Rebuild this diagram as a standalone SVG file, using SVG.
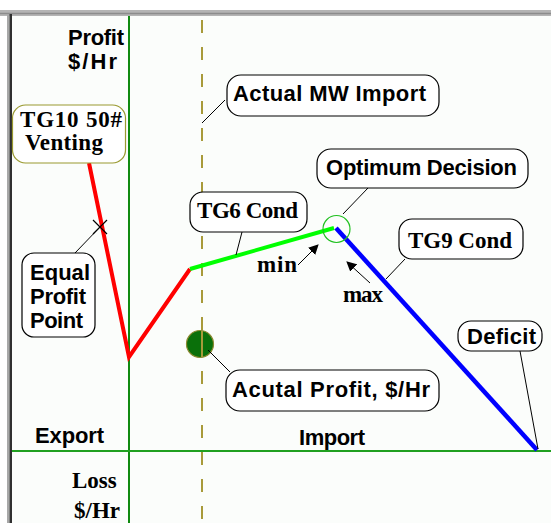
<svg xmlns="http://www.w3.org/2000/svg" width="551" height="523" viewBox="0 0 551 523">
  <style>
    .box { fill: #ffffff; stroke: #000000; stroke-width: 1.2; }
    .sans { font-family: "Liberation Sans", Arial, sans-serif; font-weight: bold; font-size: 22px; fill: #000; }
    .serif { font-family: "Liberation Serif", "Times New Roman", serif; font-weight: bold; font-size: 23px; fill: #000; }
    .lead { stroke: #000; stroke-width: 1; fill: none; }
  </style>
  <defs>
    <marker id="head" markerWidth="10" markerHeight="10" refX="9" refY="5" orient="auto" markerUnits="userSpaceOnUse">
      <path d="M0,0 L10,5 L0,10 Z" fill="#000"/>
    </marker>
  </defs>

  <!-- page and chart frame -->
  <rect x="0" y="0" width="551" height="523" fill="#ffffff"/>
  <rect x="9" y="14" width="542" height="509" fill="#fbfdfb"/>
  <rect x="0" y="10" width="551" height="6" fill="#b4b4b4"/>
  <line x1="0" y1="13.5" x2="551" y2="13.5" stroke="#8c8c8c" stroke-width="1.5"/>
  <rect x="7" y="14" width="2.5" height="509" fill="#a8a8a8"/>
  <rect x="9.5" y="14" width="2.5" height="509" fill="#303030"/>

  <!-- axes -->
  <g id="axes">
    <line x1="129" y1="16" x2="129" y2="523" stroke="#108a10" stroke-width="2"/>
    <line x1="12" y1="451" x2="551" y2="451" stroke="#20a020" stroke-width="2"/>
    <line x1="202" y1="20" x2="202" y2="523" stroke="#a89a3a" stroke-width="2" stroke-dasharray="13,14"/>
  </g>

  <!-- actual profit marker -->
  <g id="actual-profit-dot">
    <circle cx="200" cy="344" r="13.5" fill="#0a700a" stroke="#8a8a30" stroke-width="1.2"/>
    <line x1="202" y1="331" x2="202" y2="357" stroke="#a89a3a" stroke-width="2"/>
  </g>

  <!-- profit curve -->
  <g id="curve">
    <polyline points="89,163 129,357 190,269" fill="none" stroke="#ff0000" stroke-width="4" stroke-linejoin="miter"/>
    <line x1="190" y1="269" x2="334" y2="228" stroke="#00ff00" stroke-width="4"/>
    <line x1="336" y1="228" x2="537" y2="450" stroke="#0000ff" stroke-width="4.5"/>
    <circle cx="336.5" cy="229" r="13.5" fill="none" stroke="#20c020" stroke-width="1.2"/>
    <!-- equal profit cross -->
    <path d="M93,220 L107,234 M107,220 L93,234" stroke="#000" stroke-width="1.2"/>
  </g>

  <!-- connectors -->
  <g id="connectors">
    <line class="lead" x1="225" y1="100" x2="202" y2="123"/>
    <line class="lead" x1="368" y1="188" x2="343" y2="214"/>
    <line class="lead" x1="75" y1="253" x2="100" y2="227"/>
    <line class="lead" x1="242" y1="232" x2="236" y2="255"/>
    <line class="lead" x1="405" y1="259" x2="386" y2="279"/>
    <line class="lead" x1="520" y1="351" x2="538" y2="449"/>
    <line class="lead" x1="208" y1="350" x2="230" y2="372"/>
    <line class="lead" x1="298" y1="265" x2="318" y2="245" marker-end="url(#head)"/>
    <line class="lead" x1="370" y1="283" x2="347" y2="262" marker-end="url(#head)"/>
  </g>

  <!-- axis labels -->
  <g id="profit-label">
    <text class="sans" x="68" y="45" textLength="56">Profit</text>
    <text class="sans" x="68" y="69" textLength="49">$/Hr</text>
  </g>
  <g id="loss-label">
    <text class="serif" x="72" y="488" font-size="25">Loss</text>
    <text class="serif" x="74" y="518" font-size="25">$/Hr</text>
  </g>
  <text id="export-label" class="sans" x="35" y="443" textLength="69">Export</text>
  <text id="import-label" class="sans" x="299" y="445" textLength="66">Import</text>

  <!-- callouts -->
  <g id="tg10">
    <rect x="12.5" y="105" width="113" height="58" rx="13" fill="#ffffff" stroke="#9a9a30" stroke-width="1.2"/>
    <text class="serif" x="20" y="127" font-size="24" textLength="102">TG10 50#</text>
    <text class="serif" x="25" y="150" textLength="78">Venting</text>
  </g>
  <g id="actual-mw-import">
    <rect class="box" x="227" y="75" width="212" height="41" rx="14"/>
    <text class="sans" x="233" y="101" textLength="193">Actual MW Import</text>
  </g>
  <g id="optimum-decision">
    <rect class="box" x="317" y="149" width="211" height="39" rx="14"/>
    <text class="sans" x="326" y="175" textLength="191">Optimum Decision</text>
  </g>
  <g id="tg6">
    <rect class="box" x="190" y="192" width="117" height="40" rx="13"/>
    <text class="serif" x="197" y="218" textLength="101">TG6 Cond</text>
  </g>
  <g id="tg9">
    <rect class="box" x="399" y="219" width="124" height="40" rx="13"/>
    <text class="serif" x="408" y="248" textLength="104">TG9 Cond</text>
  </g>
  <g id="equal-profit-point">
    <rect class="box" x="22" y="253" width="73" height="84" rx="12"/>
    <text class="sans" x="30" y="280" textLength="60">Equal</text>
    <text class="sans" x="30" y="304" textLength="56">Profit</text>
    <text class="sans" x="30" y="328" textLength="53">Point</text>
  </g>
  <g id="min-label"><text class="serif" x="257" y="272" textLength="40">min</text></g>
  <g id="max-label"><text class="serif" x="343" y="302" textLength="40">max</text></g>
  <g id="deficit">
    <rect class="box" x="458" y="321" width="84" height="30" rx="13"/>
    <text class="sans" x="467" y="344" textLength="69">Deficit</text>
  </g>
  <g id="acutal-profit">
    <rect class="box" x="226" y="370" width="213" height="41" rx="14"/>
    <text class="sans" x="232" y="397" textLength="198">Acutal Profit, $/Hr</text>
  </g>
</svg>
